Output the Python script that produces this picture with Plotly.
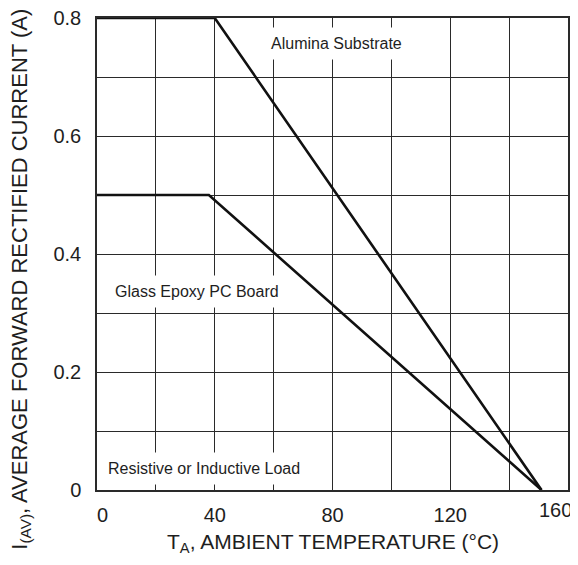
import plotly.graph_objects as go

# Data
alumina_x = [0, 40, 151]
alumina_y = [0.8, 0.8, 0.0]
glass_x = [0, 38, 151]
glass_y = [0.5, 0.5, 0.0]

x_ticks = [0, 40, 80, 120]
x_tick_text = ["&nbsp;&nbsp;0", "40", "80", "120"]
x_end_tick = [155.8]
x_end_text = ["160"]
x_minor = [20, 60, 100, 140]
y_ticks = [0, 0.2, 0.4, 0.6, 0.8]
y_tick_text = ["0", "0.2", "0.4", "0.6", "0.8"]
y_minor = [0.1, 0.3, 0.5, 0.7]

labels = [
    ("Alumina Substrate", 81.5, 0.756),
    ("Glass Epoxy PC Board", 34.1, 0.336),
    ("Resistive or Inductive Load", 36.2, 0.036),
]

x_title = "T<sub>A</sub>, AMBIENT TEMPERATURE (°C)"
y_title = "I<sub>(AV)</sub>, AVERAGE FORWARD RECTIFIED CURRENT (A)"

font_family = "Liberation Sans, Arial, sans-serif"
grid_color = "#2a2a2a"
text_color = "#1e1e1e"

fig = go.Figure()
fig.add_trace(go.Scatter(x=alumina_x, y=alumina_y, mode="lines",
                         line=dict(color="#111111", width=2.6), showlegend=False,
                         cliponaxis=False))
fig.add_trace(go.Scatter(x=glass_x, y=glass_y, mode="lines", xaxis="x2",
                         line=dict(color="#111111", width=2.6), showlegend=False,
                         cliponaxis=False))

for text, x, y in labels:
    fig.add_annotation(x=x, y=y, text=text, showarrow=False,
                       font=dict(family=font_family, size=16, color=text_color),
                       bgcolor="white", borderpad=7)

# axis titles
fig.add_annotation(xref="paper", yref="paper", x=0.501, y=-0.113, text=x_title,
                   showarrow=False, xanchor="center", yanchor="middle",
                   font=dict(family=font_family, size=21, color=text_color))
fig.add_annotation(xref="paper", yref="paper", x=-0.162, y=0.447, text=y_title,
                   showarrow=False, xanchor="center", yanchor="middle", textangle=-90,
                   font=dict(family=font_family, size=22, color=text_color))

fig.update_layout(
    width=570, height=549,
    margin=dict(l=89, r=10, t=10, b=67),
    paper_bgcolor="white", plot_bgcolor="white",
    font=dict(family=font_family, color=text_color),
    xaxis=dict(
        range=[0, 160], tickvals=x_ticks, ticktext=x_tick_text,
        showgrid=True, gridcolor=grid_color, gridwidth=1.3,
        minor=dict(tickvals=x_minor, showgrid=True, gridcolor=grid_color, gridwidth=1.3, ticks=""),
        showline=True, linecolor=grid_color, linewidth=1.5, mirror=True,
        ticks="", zeroline=False, automargin=False, ticklabeloverflow="allow",
        tickfont=dict(size=20, color=text_color), ticklabelstandoff=6,
    ),
    xaxis2=dict(
        range=[0, 160], overlaying="x", anchor="y", side="bottom",
        tickvals=x_end_tick, ticktext=x_end_text,
        showgrid=False, showline=False, zeroline=False, ticks="",
        automargin=False, ticklabeloverflow="allow", ticklabelstandoff=6,
        tickfont=dict(size=20, color=text_color, family=font_family),
    ),
    yaxis=dict(
        range=[0, 0.8], tickvals=y_ticks, ticktext=y_tick_text,
        showgrid=True, gridcolor=grid_color, gridwidth=1.3,
        minor=dict(tickvals=y_minor, showgrid=True, gridcolor=grid_color, gridwidth=1.3, ticks=""),
        showline=True, linecolor=grid_color, linewidth=1.5, mirror=True,
        ticks="", zeroline=False, automargin=False, ticklabeloverflow="allow",
        tickfont=dict(size=20, color=text_color), ticklabelstandoff=10,
    ),
)

fig.write_html("out.html")
